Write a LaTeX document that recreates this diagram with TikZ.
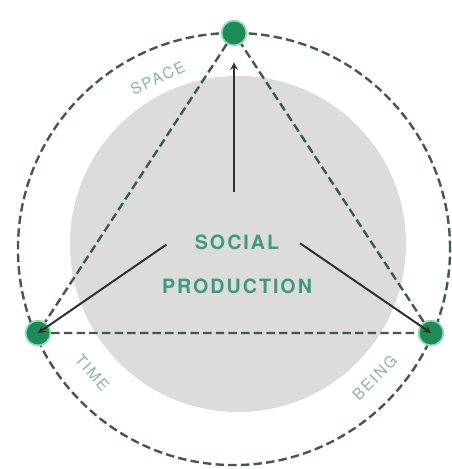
\documentclass[tikz,border=0pt]{standalone}
\usepackage{fontspec}
\setmainfont{TeX Gyre Heros}
\usetikzlibrary{arrows, positioning, calc}
\definecolor{spotgreen}{HTML}{1E8A57}
\definecolor{glowgreen}{HTML}{8FD9B4}
\definecolor{dashgrey}{HTML}{3F5A4C}
\definecolor{discgrey}{HTML}{DCDCDC}
\definecolor{linegrey}{HTML}{2E2E2E}
\definecolor{textgreen}{HTML}{3E9A7E}
\definecolor{labelgreen}{HTML}{8AB5A5}

\begin{document}
\begin{tikzpicture}[x=0.025cm, y=-0.025cm]
    \tikzstyle{spot} = [circle, fill=spotgreen, draw=glowgreen, line width=1.2pt, minimum size=0.62cm, inner sep=0pt]
    \tikzstyle{ring} = [draw=dashgrey, line width=1.7pt, dash pattern=on 6pt off 3pt]
    \tikzstyle{arrow} = [line width=1.4pt, ->, >=stealth, draw=linegrey]
    \tikzstyle{titletext} = [font=\fontsize{14}{16}\selectfont\bfseries\addfontfeatures{LetterSpace=10}, text=textgreen]
    \tikzstyle{dimlabel} = [font=\fontsize{11}{13}\selectfont\addfontfeatures{LetterSpace=12}, text=labelgreen, inner sep=1pt]

    \useasboundingbox (0,0) rectangle (452,469);
    \coordinate (centre) at (234,249);
    \coordinate (hub) at (234,198);

    \fill[discgrey] (238,244) circle (4.2cm);
    \draw[ring] (centre) circle (5.4cm);

    \node[spot] (space) at (234,33) {};
    \node[spot] (time) at (38,333) {};
    \node[spot] (being) at (431,333) {};

    \draw[ring] (space) -- (time) -- (being) -- (space);

    \draw[arrow, shorten <=0.15cm, shorten >=0.4cm] (hub) -- (space);
    \draw[arrow, shorten <=2.05cm] (hub) -- (time.center);
    \draw[arrow, shorten <=2.0cm] (hub) -- (being.center);

    \node[titletext] (social) at (237,242) {SOCIAL};
    \node[titletext] (production) at (237,286) {PRODUCTION};

    \node[dimlabel, rotate=25] (spacelabel) at ($(centre)+(114:4.68cm)$) {SPACE};
    \node[dimlabel, rotate=-49] (timelabel) at ($(centre)+(221:4.7cm)$) {TIME};
    \node[dimlabel, rotate=45] (beinglabel) at ($(centre)+(-42.5:4.77cm)$) {BEING};
\end{tikzpicture}
\end{document}
